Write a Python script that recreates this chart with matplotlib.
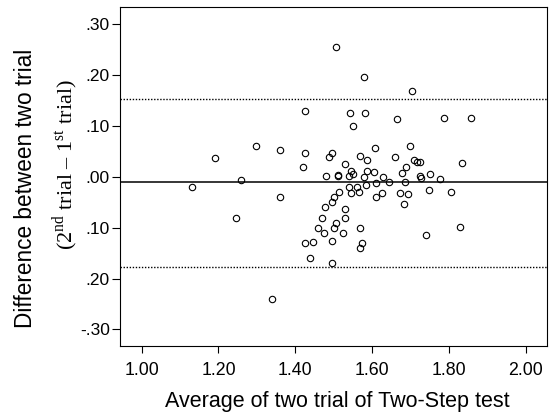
import matplotlib
matplotlib.use("Agg")
import matplotlib.pyplot as plt

# Average of two trials (x) and difference (y)
avg = [1.507, 1.578, 1.705, 1.424, 1.542, 1.582, 1.666, 1.787, 1.858, 1.549,
       1.298, 1.360, 1.192, 1.426, 1.496, 1.489, 1.569, 1.586, 1.607, 1.660,
       1.699, 1.709, 1.717, 1.725, 1.833, 1.420, 1.530, 1.689, 1.544, 1.551,
       1.587, 1.605, 1.678, 1.752, 1.480, 1.510, 1.512, 1.539, 1.578, 1.628,
       1.724, 1.727, 1.777, 1.258,
       1.131, 1.645, 1.685,
       1.540, 1.560, 1.583, 1.609, 1.515, 1.544, 1.565, 1.626, 1.609, 1.673,
       1.693, 1.747, 1.805, 1.683, 1.360, 1.500, 1.495, 1.477, 1.530, 1.246,
       1.470, 1.530, 1.505, 1.459, 1.500, 1.569, 1.830, 1.475, 1.525, 1.740,
       1.424, 1.445, 1.496, 1.575, 1.569, 1.439, 1.495, 1.339]
diff = [0.255, 0.197, 0.168, 0.130, 0.126, 0.125, 0.114, 0.116, 0.116, 0.100,
        0.060, 0.053, 0.038, 0.047, 0.046, 0.039, 0.041, 0.034, 0.057, 0.039,
        0.060, 0.033, 0.030, 0.030, 0.028, 0.020, 0.026, 0.019, 0.012, 0.005,
        0.012, 0.010, 0.007, 0.005, 0.001, 0.002, 0.003, 0.001, 0.000, -0.001,
        0.001, -0.002, -0.004, -0.006,
        -0.020, -0.010, -0.010,
        -0.019, -0.019, -0.016, -0.013, -0.030, -0.031, -0.030, -0.031, -0.040, -0.032,
        -0.033, -0.026, -0.030, -0.053, -0.039, -0.039, -0.050, -0.059, -0.063, -0.080,
        -0.080, -0.080, -0.090, -0.100, -0.100, -0.100, -0.099, -0.110, -0.110, -0.114,
        -0.130, -0.129, -0.127, -0.130, -0.140, -0.160, -0.170, -0.240]

mean_diff = -0.011
upper_loa = 0.154
lower_loa = -0.177

xticks = [1.00, 1.20, 1.40, 1.60, 1.80, 2.00]
xticklabels = ["1.00", "1.20", "1.40", "1.60", "1.80", "2.00"]
yticks = [0.30, 0.20, 0.10, 0.00, -0.10, -0.20, -0.30]
yticklabels = [".30", ".20", ".10", ".00", ".10", ".20", "-.30"]

plt.rcParams['font.family'] = ['Liberation Sans', 'DejaVu Sans']
plt.rcParams['mathtext.fontset'] = 'custom'
plt.rcParams['mathtext.rm'] = 'Liberation Serif'

fig = plt.figure(figsize=(5.5, 4.16), dpi=100)
ax = fig.add_axes([120/550, 1-345.7/416, 427/550, (345.7-7.3)/416])

ax.plot(avg, diff, linestyle='none', marker='o', markersize=4.6,
        markerfacecolor='none', markeredgecolor='black', markeredgewidth=0.8)
ax.axhline(mean_diff, color='black', linewidth=1.1)
ax.axhline(upper_loa, color='black', linewidth=1.0, linestyle=(0, (1, 1.2)))
ax.axhline(lower_loa, color='black', linewidth=1.0, linestyle=(0, (1, 1.2)))

ax.set_xlim(0.9435, 2.0555)
ax.set_ylim(-0.332, 0.3335)
ax.set_xticks(xticks)
ax.set_xticklabels(xticklabels)
ax.set_yticks(yticks)
ax.set_yticklabels(yticklabels)
ax.tick_params(axis='x', direction='out', length=5, width=0.8, labelsize=12.8, pad=6.5)
ax.tick_params(axis='y', direction='out', length=5.5, width=0.8, labelsize=12.5, pad=1.8)
for s in ax.spines.values():
    s.set_linewidth(0.8)

fig.text(337/550, 1-402/416, "Average of two trial of Two-Step test",
         ha='center', va='center', fontsize=15.5)
fig.text(26/550, 1-188/416, "Difference between two trial",
         ha='center', va='center', rotation=90, fontsize=16.3)
fig.text(66/550, 1-165/416, r"(2$^{\rm nd}$ trial – 1$^{\rm st}$ trial)",
         ha='center', va='center', rotation=90, fontsize=16,
         family='Liberation Serif')

fig.savefig("out.png", dpi=100)
